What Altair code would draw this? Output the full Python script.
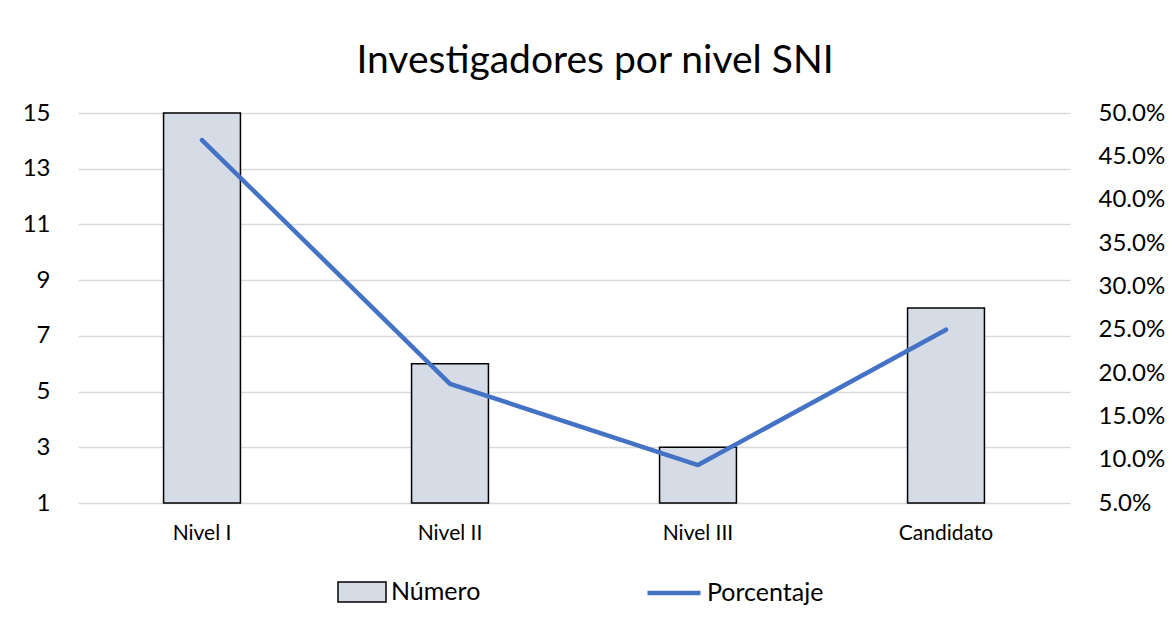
import altair as alt
import pandas as pd

categorias = ["Nivel I", "Nivel II", "Nivel III", "Candidato"]
numero = [15, 6, 3, 8]
porcentaje = [0.46875, 0.1875, 0.09375, 0.25]
ticks_num = [1, 3, 5, 7, 9, 11, 13, 15]
ticks_pct = [0.05, 0.10, 0.15, 0.20, 0.25, 0.30, 0.35, 0.40, 0.45, 0.50]

df = pd.DataFrame({
    "Categoria": categorias,
    "Numero": numero,
    "Porcentaje": porcentaje,
    "serie_b": ["Número"] * len(categorias),
    "serie_l": ["Porcentaje"] * len(categorias),
})

FONT = "Lato"

x_enc = alt.X(
    "Categoria:N", sort=categorias,
    scale=alt.Scale(paddingInner=0.69, paddingOuter=0.345),
    axis=alt.Axis(title=None, labelAngle=0, domain=False, ticks=False,
                  labelFontSize=21, labelPadding=19, labelFont=FONT,
                  labelColor="#000000"),
)

bars = alt.Chart(df).mark_bar(stroke="black", strokeWidth=1.5).encode(
    x=x_enc,
    y=alt.Y("Numero:Q",
            scale=alt.Scale(domain=[1, 15], nice=False, zero=False),
            axis=alt.Axis(values=ticks_num, orient="left", title=None,
                          domain=False, ticks=False, grid=True,
                          gridColor="#D9D9D9", gridWidth=1.5,
                          labelFontSize=24, labelPadding=28, labelFont=FONT,
                          labelColor="#000000")),
    y2=alt.datum(1),
    fill=alt.Fill("serie_b:N",
                  scale=alt.Scale(domain=["Número"], range=["#D6DCE5"]),
                  legend=alt.Legend(title=None, orient="none", legendX=259, legendY=454,
                                    symbolType="M-1,-0.42H1V0.42H-1Z", symbolSize=2304,
                                    symbolStrokeColor="black", symbolStrokeWidth=1.5,
                                    labelFontSize=25, labelFont=FONT, labelColor="#000000",
                                    labelOffset=4, padding=0)),
)

line = alt.Chart(df).mark_line(strokeWidth=4.5, strokeCap="round", strokeJoin="round").encode(
    x=alt.X("Categoria:N", sort=categorias),
    y=alt.Y("Porcentaje:Q",
            scale=alt.Scale(domain=[0.05, 0.5], nice=False, zero=False),
            axis=alt.Axis(values=ticks_pct, format=".1%", orient="right", title=None,
                          domain=False, ticks=False, grid=False,
                          labelFontSize=24, labelPadding=28, labelFont=FONT,
                          labelColor="#000000")),
    stroke=alt.Stroke("serie_l:N",
                      scale=alt.Scale(domain=["Porcentaje"], range=["#4472C4"]),
                      legend=alt.Legend(title=None, orient="none", legendX=567, legendY=451,
                                        symbolType="stroke", symbolSize=2809,
                                        symbolStrokeWidth=4.5,
                                        labelFontSize=25, labelFont=FONT, labelColor="#000000",
                                        labelOffset=4, padding=0)),
)

chart = alt.layer(bars, line).resolve_scale(
    y="independent", fill="independent", stroke="independent"
).properties(
    width=992, height=390,
    title=alt.TitleParams("Investigadores por nivel SNI", fontSize=39, font=FONT,
                          fontWeight="normal", color="#000000", anchor="middle",
                          dx=21, dy=41, baseline="alphabetic", offset=30),
    autosize=alt.AutoSizeParams(type="none"),
    padding={"left": 70, "top": 105, "right": 96, "bottom": 116},
    background="white",
).configure_view(stroke=None)

chart.save("out.html", embed_options={"renderer": "svg", "actions": False})
